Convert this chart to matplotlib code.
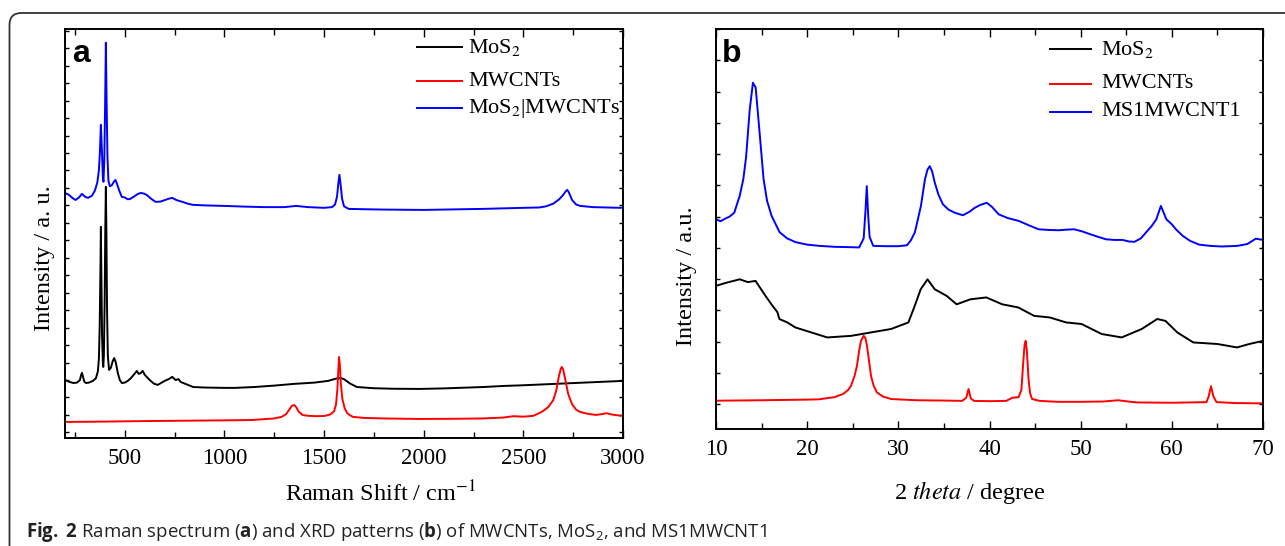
import matplotlib
matplotlib.use("Agg")
import matplotlib.pyplot as plt
from matplotlib.lines import Line2D
from matplotlib.patches import FancyBboxPatch
from matplotlib.transforms import IdentityTransform
from matplotlib.ticker import MultipleLocator

plt.rcParams['mathtext.fontset'] = 'custom'
plt.rcParams['mathtext.rm'] = 'Open Sans'
plt.rcParams['mathtext.bf'] = 'Open Sans:bold'
plt.rcParams['mathtext.it'] = 'Open Sans:italic'

# ---------------- Panel a: Raman ----------------
raman_mos2_x = [200, 220, 242, 260, 275, 280, 285, 290, 297, 305, 320, 340, 355, 365, 370, 374, 378, 380, 382, 386,
                390, 392, 395, 399, 402, 405, 408, 411, 415, 421, 430, 440, 447, 455, 465, 475, 485, 500, 515, 530,
                545, 560, 570, 580, 590, 600, 625, 645, 665, 685, 700, 720, 738, 755, 770, 780, 800, 843, 900, 1000,
                1055, 1150, 1250, 1350, 1450, 1520, 1560, 1582, 1600, 1630, 1665, 1750, 1850, 1980, 2100, 2200, 2300,
                2400, 2500, 2600, 2700, 2800, 2900, 3000]
raman_mos2_y = [2.0, 1.9, 1.83, 1.85, 2.0, 2.25, 2.41, 2.2, 1.9, 1.83, 1.85, 1.95, 2.1, 2.5, 3.2, 5.0, 8.5, 10.77, 8.6, 4.5,
                3.0, 2.75, 3.4, 6.5, 10.5, 13.06, 10.2, 6.0, 3.4, 2.58, 2.7, 3.1, 3.26, 3.0, 2.4, 2.0, 1.83, 1.85, 1.95, 2.1,
                2.3, 2.52, 2.35, 2.4, 2.52, 2.3, 2.0, 1.8, 1.72, 1.85, 1.95, 2.05, 2.18, 2.0, 2.05, 1.89, 1.8, 1.6, 1.57, 1.55,
                1.55, 1.6, 1.68, 1.78, 1.85, 1.95, 2.08, 2.12, 2.05, 1.8, 1.6, 1.53, 1.5, 1.49, 1.52, 1.56, 1.6,
                1.66, 1.7, 1.75, 1.8, 1.85, 1.9, 1.95]

raman_cnt_x = [200, 400, 600, 800, 1000, 1138, 1250, 1287, 1310, 1325, 1338, 1350, 1360, 1372, 1392, 1420, 1460, 1500,
               1530, 1550, 1560, 1567, 1572, 1575, 1579, 1584, 1592, 1603, 1615, 1630, 1645, 1700, 1800, 1980, 2150,
               2300, 2400, 2450, 2500, 2550, 2592, 2625, 2650, 2665, 2678, 2688, 2693, 2700, 2710, 2725, 2745, 2765,
               2785, 2830, 2865, 2895, 2918, 2945, 3000]
raman_cnt_y = [-0.4, -0.38, -0.35, -0.33, -0.31, -0.29, -0.2, -0.11, 0.05, 0.3, 0.52, 0.57, 0.45, 0.2, 0.0, -0.05, -0.07, -0.06,
               0.02, 0.2, 0.6, 1.5, 2.7, 3.32, 2.9, 1.8, 0.9, 0.4, 0.12, -0.02, -0.11, -0.17, -0.2, -0.23, -0.22,
               -0.2, -0.15, -0.07, -0.1, -0.05, 0.17, 0.45, 0.85, 1.4, 2.2, 2.65, 2.75, 2.6, 2.05, 1.2, 0.6, 0.3,
               0.17, 0.05, 0.0, 0.05, 0.1, 0.02, -0.06]

raman_comp_x = [200, 220, 240, 253, 270, 285, 300, 315, 335, 350, 362, 370, 375, 380, 385, 390, 393, 397, 401, 405,
                409, 413, 418, 425, 435, 445, 453, 462, 472, 485, 500, 515, 527, 545, 565, 580, 595, 610, 630, 654,
                680, 700, 720, 738, 760, 790, 815, 843, 900, 1000, 1100, 1200, 1300, 1360, 1420, 1500, 1540, 1555,
                1565, 1572, 1577, 1582, 1590, 1600, 1623, 1700, 1800, 1900, 2000, 2100, 2200, 2300, 2400, 2500, 2580,
                2615, 2650, 2680, 2700, 2712, 2720, 2728, 2745, 2765, 2785, 2850, 2950, 3000]
raman_comp_y = [12.71, 12.6, 12.4, 12.31, 12.45, 12.66, 12.5, 12.43, 12.55, 12.85, 13.3, 14.0, 15.0, 16.61, 15.2, 13.6, 13.35,
                14.5, 17.5, 21.31, 17.8, 14.8, 13.4, 13.1, 13.15, 13.35, 13.46, 13.2, 12.85, 12.49, 12.45, 12.35, 12.37,
                12.5, 12.65, 12.71, 12.68, 12.6, 12.4, 12.2, 12.22, 12.3, 12.38, 12.43, 12.3, 12.2, 12.1, 12.03, 12.0,
                11.97, 11.93, 11.9, 11.9, 11.97, 11.9, 11.86, 11.9, 12.05, 12.5, 13.3, 13.75, 13.3, 12.4, 11.95, 11.8,
                11.78, 11.76, 11.75, 11.74, 11.76, 11.78, 11.8, 11.83, 11.86, 11.88, 11.95, 12.1, 12.35, 12.6, 12.8,
                12.89, 12.75, 12.3, 12.05, 11.97, 11.9, 11.87, 11.86]

# ---------------- Panel b: XRD ----------------
xrd_mos2_x = [10, 11, 12.6, 13.5, 14.33, 15.43, 16.08, 16.73, 16.95, 17.83, 18.7, 20.45, 22.2, 24.8, 27.0, 29.2, 31.1,
              31.8, 32.45, 33.2, 34.0, 35.3, 36.4, 37.9, 39.65, 41.4, 43.15, 44.9, 46.6, 48.4, 50.1, 52.3, 54.5,
              56.7, 58.4, 59.3, 60.6, 62.35, 65.0, 67.15, 68.5, 70]
xrd_mos2_y = [3.78, 3.87, 3.99, 3.9, 3.94, 3.46, 3.19, 2.94, 2.72, 2.61, 2.45, 2.29, 2.13, 2.18, 2.29, 2.4, 2.61,
              3.14, 3.67, 3.99, 3.67, 3.46, 3.19, 3.35, 3.41, 3.19, 3.09, 2.82, 2.77, 2.61, 2.56, 2.24, 2.13,
              2.4, 2.72, 2.66, 2.29, 1.97, 1.92, 1.81, 1.92, 2.02]

xrd_cnt_x = [10, 15, 20, 21.3, 23.0, 23.94, 24.5, 24.8, 25.2, 25.46, 25.7, 25.9, 26.2, 26.4, 26.56, 26.8, 27.0, 27.3,
             27.65, 28.3, 29.2, 32, 35, 37.0, 37.45, 37.7, 37.95, 38.3, 40, 41.83, 42.5, 43.2, 43.5, 43.7, 43.85,
             43.97, 44.1, 44.28, 44.45, 44.67, 45.5, 47.5, 50, 52.5, 54.1, 55.5, 56.2, 60, 63.8, 64.05, 64.3, 64.55,
             64.9, 67, 70]
xrd_cnt_y = [0.105, 0.12, 0.14, 0.15, 0.22, 0.32, 0.45, 0.58, 0.9, 1.22, 1.7, 2.02, 2.18, 2.1, 1.86, 1.35, 0.9, 0.58,
             0.37, 0.24, 0.16, 0.12, 0.11, 0.1, 0.2, 0.48, 0.18, 0.1, 0.09, 0.1, 0.2, 0.22, 0.45, 1.33, 1.9,
             2.02, 1.7, 0.8, 0.35, 0.16, 0.1, 0.07, 0.07, 0.08, 0.12, 0.07, 0.05, 0.04, 0.06, 0.25, 0.57, 0.25,
             0.06, 0.03, 0.02]

xrd_comp_x = [10, 10.5, 11, 11.5, 12, 12.6, 13.0, 13.3, 13.7, 14.05, 14.35, 14.78, 15.22, 15.6, 16.1, 16.97, 17.8, 18.72,
              20, 21.34, 23, 24.5, 25.7, 26.2, 26.4, 26.54, 26.7, 26.85, 27.24, 28.5, 30.0, 30.95, 31.4, 31.82, 32.48,
              32.92, 33.2, 33.44, 33.7, 34.0, 34.4, 34.89, 35.5, 36.2, 37.08, 37.8, 38.39, 39.0, 39.7, 40.3, 41.0,
              42.0, 43.2, 44.3, 45.4, 46.5, 47.6, 48.5, 49.3, 50.2, 51.07, 52.0, 52.8, 53.7, 54.6, 55.3, 55.9, 56.6,
              57.2, 57.8, 58.3, 58.8, 59.4, 60.0, 60.45, 61.2, 62.0, 63.0, 64.2, 65.5, 67.2, 68.3, 69.2, 70]
xrd_comp_y = [5.91, 5.85, 5.93, 6.0, 6.12, 6.66, 7.2, 7.9, 9.42, 10.28, 10.13, 8.69, 7.19, 6.5, 6.02, 5.5, 5.3, 5.18,
              5.1, 5.06, 5.03, 5.02, 5.01, 5.3, 6.2, 6.97, 6.0, 5.35, 5.06, 5.05, 5.05, 5.08, 5.25, 5.5, 6.34,
              7.19, 7.5, 7.61, 7.45, 7.08, 6.7, 6.39, 6.22, 6.12, 6.04, 6.15, 6.28, 6.37, 6.44, 6.3, 6.07,
              5.95, 5.86, 5.72, 5.59, 5.57, 5.56, 5.58, 5.59, 5.52, 5.43, 5.34, 5.27, 5.25, 5.25, 5.2, 5.19, 5.3,
              5.5, 5.7, 5.91, 6.34, 5.91, 5.75, 5.59, 5.38, 5.22, 5.1, 5.06, 5.04, 5.06, 5.12, 5.29, 5.25]

labels_a = ['MoS$_2$', 'MWCNTs', 'MoS$_2$|MWCNTs']
labels_b = ['MoS$_2$', 'MWCNTs', 'MS1MWCNT1']
colors = ['#000000', '#ff0000', '#0000ff']

SERIF = 'Liberation Serif'
W, H = 1285, 546
fig = plt.figure(figsize=(W / 100, H / 100), dpi=100)

def frac_box(l, t, r, b):
    return [l / W, (H - b) / H, (r - l) / W, (b - t) / H]

ax_a = fig.add_axes(frac_box(65, 29, 623, 438))
ax_b = fig.add_axes(frac_box(716, 29, 1263, 429))

series_a = [(raman_mos2_x, raman_mos2_y), (raman_cnt_x, raman_cnt_y), (raman_comp_x, raman_comp_y)]
series_b = [(xrd_mos2_x, xrd_mos2_y), (xrd_cnt_x, xrd_cnt_y), (xrd_comp_x, xrd_comp_y)]

for ax, series in ((ax_a, series_a), (ax_b, series_b)):
    for (xs, ys), c in zip(series, colors):
        ax.plot(xs, ys, color=c, lw=1.4)

ax_a.set_xlim(200, 3000)
ax_a.set_ylim(-1.32, 22.1)
ax_a.xaxis.set_major_locator(MultipleLocator(500))
ax_a.xaxis.set_minor_locator(MultipleLocator(250))
ax_a.yaxis.set_major_locator(MultipleLocator(1))

ax_b.set_xlim(10, 70)
ax_b.set_ylim(-0.8, 12.0)
ax_b.xaxis.set_major_locator(MultipleLocator(10))
ax_b.xaxis.set_minor_locator(MultipleLocator(5))
ax_b.yaxis.set_major_locator(MultipleLocator(1))

for ax in (ax_a, ax_b):
    for s in ax.spines.values():
        s.set_linewidth(1.4)
    ax.tick_params(axis='both', which='both', direction='in', top=True, right=True, width=1.0)
    ax.tick_params(axis='x', which='major', length=6, pad=7, labelsize=16.5)
    ax.tick_params(axis='x', which='minor', length=4)
    ax.tick_params(axis='y', which='major', length=3, labelleft=False)
    for lab in ax.get_xticklabels():
        lab.set_fontfamily(SERIF)

ax_a.set_xlabel('Raman Shift / cm$^{-1}$', fontfamily=SERIF, fontsize=17.5, math_fontfamily='stix')
ax_a.xaxis.set_label_coords(0.566, -0.105)
ax_a.set_ylabel('Intensity / a. u.', fontfamily=SERIF, fontsize=17.5)
ax_a.yaxis.set_label_coords(-0.018, 0.44)

ax_b.set_xlabel('2 $\\mathit{theta}$ / degree', fontfamily=SERIF, fontsize=17.5, math_fontfamily='stix')
ax_b.xaxis.set_label_coords(0.464, -0.125)
ax_b.set_ylabel('Intensity / a.u.', fontfamily=SERIF, fontsize=17.5)
ax_b.yaxis.set_label_coords(-0.035, 0.383)

# panel letters
ax_a.text((72 - 65) / 558, (438 - 62) / 409, 'a', transform=ax_a.transAxes, fontfamily='Liberation Sans',
          fontweight='bold', fontsize=23, va='baseline', ha='left')
ax_b.text((722 - 716) / 547, (429 - 62) / 400, 'b', transform=ax_b.transAxes, fontfamily='Liberation Sans',
          fontweight='bold', fontsize=23, va='baseline', ha='left')

# legends
def draw_legend(ax, l, t, r, b, line_x0, line_x1, text_x, rows, labels):
    aw, ah = r - l, b - t
    for (yy, lab, c) in zip(rows, labels, colors):
        ax.add_line(Line2D([(line_x0 - l) / aw, (line_x1 - l) / aw], [(b - yy) / ah] * 2,
                           transform=ax.transAxes, color=c, lw=1.4))
        ax.text((text_x - l) / aw, (b - yy) / ah, lab, transform=ax.transAxes, fontfamily=SERIF,
                fontsize=16, va='center', ha='left', math_fontfamily='stix')

draw_legend(ax_a, 65, 29, 623, 438, 417, 462, 468, [47, 81, 108], labels_a)
draw_legend(ax_b, 716, 29, 1263, 429, 1050, 1091, 1101, [49, 84, 112], labels_b)

# caption
fig.text(26 / W, (H - 537) / H,
         '$\\mathbf{Fig.}$ $\\mathbf{2}$ Raman spectrum ($\\mathbf{a}$) and XRD patterns ($\\mathbf{b}$) of MWCNTs, MoS$_2$, and MS1MWCNT1',
         fontfamily='Open Sans', fontsize=13.4, color='#222222', va='baseline', ha='left')

# outer rounded frame
frame = FancyBboxPatch((9.5, -40), 1400, (H - 13) + 40, boxstyle='round,pad=0,rounding_size=12',
                       transform=IdentityTransform(), fill=False, edgecolor='#333333', lw=1.3)
fig.patches.append(frame)

fig.savefig('out.png', dpi=100)
